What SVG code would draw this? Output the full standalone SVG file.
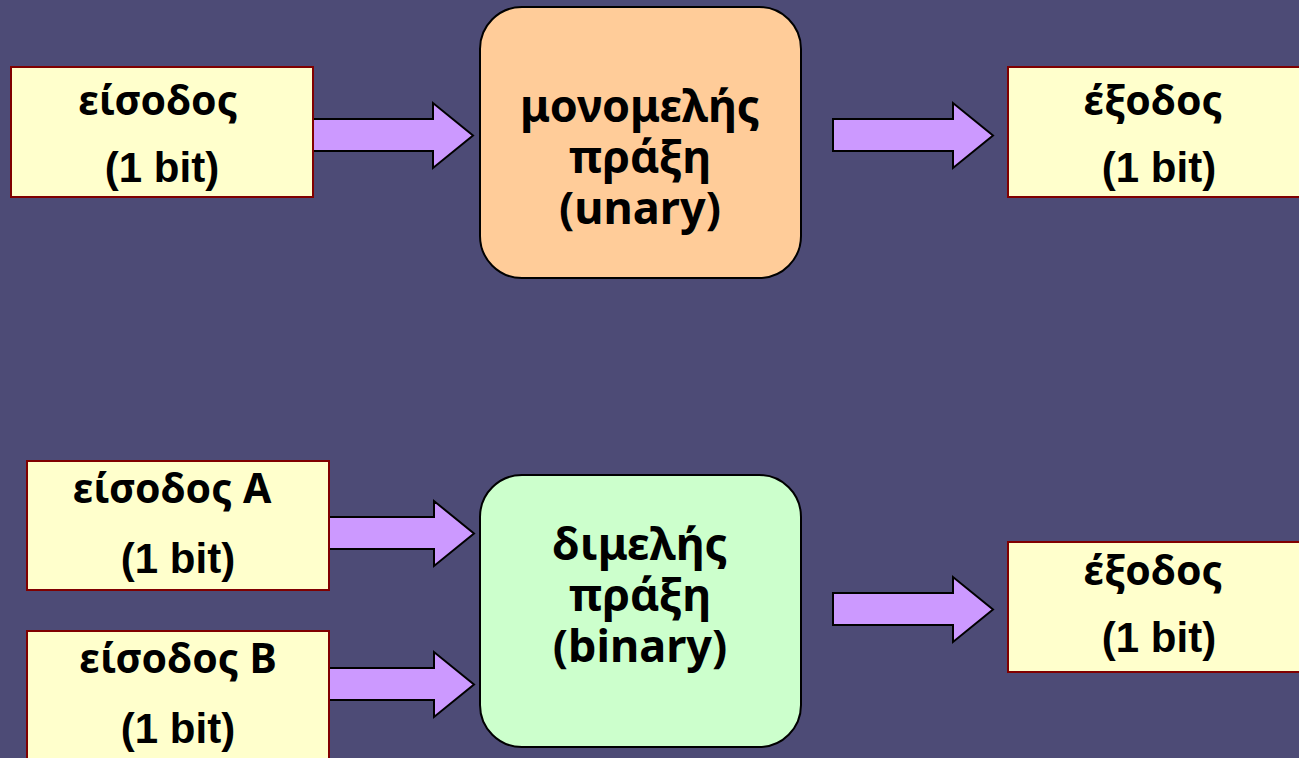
<svg xmlns="http://www.w3.org/2000/svg" width="1299" height="758" viewBox="0 0 1299 758">
<style>
.io{fill:#FFFFCC;stroke:#800000;stroke-width:2}
.op{stroke:#000;stroke-width:2}
.arr{fill:#CC99FF;stroke:#000;stroke-width:2;stroke-linejoin:miter}
.gr{font-family:"Noto Sans","DejaVu Sans",sans-serif;font-weight:bold;font-size:41px;fill:#000;text-anchor:middle}
.big{font-size:45px}
.bit{font-family:"Liberation Sans",Arial,sans-serif;font-weight:bold;font-size:42px;fill:#000;text-anchor:middle}
</style>
<defs>
<path id="arrowL" d="M0,16 H120 V0 L160,32.5 L120,65 V48 H0 Z"/>
<path id="arrowS" d="M0,16 H105 V0 L145,32.5 L105,65 V48 H0 Z"/>
</defs>
<rect x="0" y="0" width="1299" height="758" fill="#4D4B76"/>
<g id="connectors">
<use href="#arrowL" class="arr" x="313" y="103"/>
<use href="#arrowL" class="arr" x="833" y="103"/>
<use href="#arrowS" class="arr" x="329" y="501"/>
<use href="#arrowS" class="arr" x="329" y="652"/>
<use href="#arrowL" class="arr" x="833" y="577"/>
</g>
<g id="in-top">
<rect class="io" x="11" y="67" width="302" height="130"/>
<text class="gr" x="158" y="115">είσοδος</text>
<text class="bit" x="162" y="182">(1 bit)</text>
</g>
<g id="unary">
<rect class="op" x="480" y="7" width="321" height="271" rx="42" fill="#FFCC99"/>
<text class="gr big" x="640" y="122">μονομελής</text>
<text class="gr big" x="640" y="173">πράξη</text>
<text class="gr big" x="640" y="224">(unary)</text>
</g>
<g id="out-top">
<rect class="io" x="1008" y="67" width="302" height="130"/>
<text class="gr" x="1153" y="115">έξοδος</text>
<text class="bit" x="1159" y="182">(1 bit)</text>
</g>
<g id="in-a">
<rect class="io" x="27" y="461" width="302" height="129"/>
<text class="gr" x="172" y="503">είσοδος A</text>
<text class="bit" x="178" y="573">(1 bit)</text>
</g>
<g id="in-b">
<rect class="io" x="27" y="631" width="302" height="130"/>
<text class="gr" x="178" y="673">είσοδος B</text>
<text class="bit" x="178" y="743">(1 bit)</text>
</g>
<g id="binary">
<rect class="op" x="480" y="475" width="321" height="272" rx="42" fill="#CCFFCC"/>
<text class="gr big" x="640" y="560">διμελής</text>
<text class="gr big" x="640" y="611">πράξη</text>
<text class="gr big" x="640" y="662">(binary)</text>
</g>
<g id="out-bottom">
<rect class="io" x="1008" y="542" width="302" height="130"/>
<text class="gr" x="1153" y="585">έξοδος</text>
<text class="bit" x="1159" y="652">(1 bit)</text>
</g>
</svg>
